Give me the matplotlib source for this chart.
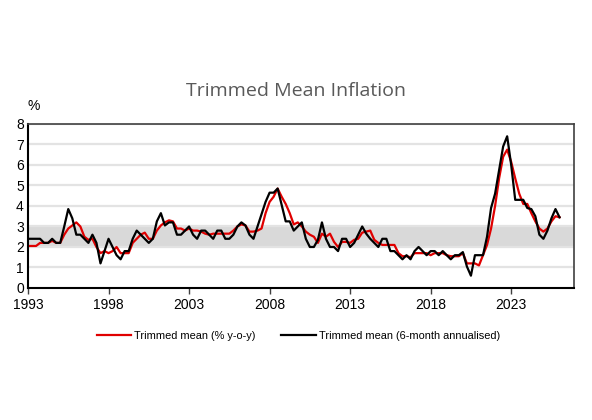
import numpy as np
import matplotlib.pyplot as plt

# quarterly data, first point 1993 Q1
start_year = 1993
yoy = [2.05, 2.05, 2.05, 2.2, 2.2, 2.2, 2.3, 2.2, 2.2, 2.6,
       2.9, 3.05, 3.2, 3.0, 2.5, 2.35, 2.4, 2.0, 1.7, 1.8,
       1.7, 1.8, 2.0, 1.7, 1.7, 1.7, 2.2, 2.4, 2.6, 2.7,
       2.4, 2.4, 2.8, 3.05, 3.2, 3.3, 3.25, 2.9, 2.9, 2.8,
       2.9, 2.8, 2.8, 2.75, 2.65, 2.6, 2.65, 2.65, 2.65, 2.65,
       2.65, 2.8, 3.0, 3.1, 3.05, 2.75, 2.75, 2.8, 2.9, 3.65,
       4.2, 4.45, 4.85, 4.45, 4.1, 3.65, 3.1, 3.2, 3.0, 2.75,
       2.6, 2.5, 2.2, 2.65, 2.5, 2.65, 2.25, 2.0, 2.25, 2.25,
       2.2, 2.35, 2.4, 2.7, 2.75, 2.8, 2.35, 2.2, 2.1, 2.1,
       2.1, 2.1, 1.7, 1.55, 1.55, 1.5, 1.7, 1.7, 1.7, 1.7,
       1.6, 1.7, 1.7, 1.7, 1.6, 1.55, 1.55, 1.55, 1.7, 1.2,
       1.2, 1.2, 1.1, 1.6, 2.1, 2.9, 4.0, 5.35, 6.4, 6.75,
       6.15, 5.35, 4.6, 4.1, 4.1, 3.65, 3.25, 2.9, 2.75, 2.9,
       3.25, 3.5, 3.45]
six_month = [2.4, 2.4, 2.4, 2.4, 2.2, 2.2, 2.4, 2.2, 2.2, 3.0,
             3.85, 3.4, 2.6, 2.6, 2.4, 2.2, 2.6, 2.2, 1.2, 1.8,
             2.4, 2.0, 1.6, 1.4, 1.8, 1.8, 2.4, 2.8, 2.6, 2.4,
             2.2, 2.4, 3.25, 3.65, 3.05, 3.2, 3.2, 2.6, 2.6, 2.8,
             3.0, 2.6, 2.4, 2.8, 2.8, 2.6, 2.4, 2.8, 2.8, 2.4,
             2.4, 2.6, 3.0, 3.2, 3.05, 2.6, 2.4, 3.0, 3.6, 4.2,
             4.65, 4.65, 4.85, 4.05, 3.25, 3.25, 2.8, 3.0, 3.2, 2.4,
             2.0, 2.0, 2.35, 3.2, 2.4, 2.0, 2.0, 1.8, 2.4, 2.4,
             2.0, 2.2, 2.6, 3.0, 2.65, 2.4, 2.2, 2.0, 2.4, 2.4,
             1.8, 1.8, 1.6, 1.4, 1.6, 1.4, 1.8, 2.0, 1.8, 1.6,
             1.8, 1.8, 1.6, 1.8, 1.6, 1.4, 1.6, 1.6, 1.75, 1.05,
             0.6, 1.6, 1.6, 1.6, 2.5, 3.9, 4.6, 5.75, 6.9, 7.4,
             6.0, 4.3, 4.3, 4.3, 3.9, 3.85, 3.5, 2.6, 2.4, 2.8,
             3.4, 3.85, 3.45]
target_band = (2, 3)
tick_years = [1993, 1998, 2003, 2008, 2013, 2018, 2023]

x = start_year + np.arange(len(yoy)) / 4.0

plt.rcParams['font.family'] = ['Liberation Sans', 'DejaVu Sans']

fig = plt.figure(figsize=(5.92, 4.20), dpi=100)
ax = fig.add_axes([0.0473, 0.3143, 0.9223, 0.3905])

ax.axhspan(target_band[0], target_band[1], color='#d9d9d9', lw=0, zorder=0)
for yv in range(1, 9):
    ax.axhline(yv, color='#e3e3e3', lw=1.6, zorder=0.5)

l1, = ax.plot(x, yoy, color='#e00000', lw=1.6, zorder=2)
l2, = ax.plot(x, six_month, color='black', lw=1.6, zorder=3)

ax.set_xlim(1993, 2026.9)
ax.set_ylim(0, 8)
ax.set_yticks(range(0, 9))
ax.set_xticks(tick_years)
ax.set_xticklabels([str(t) for t in tick_years])
ax.tick_params(axis='both', labelsize=10, colors='black', length=0, pad=3)
ax.tick_params(axis='x', length=4, direction='out', width=1, color='#404040')

for side in ['left', 'bottom']:
    ax.spines[side].set_color('black')
    ax.spines[side].set_linewidth(1.5)
for side in ['top', 'right']:
    ax.spines[side].set_color('#404040')
    ax.spines[side].set_linewidth(1.2)

fig.text(0.5, 0.783, 'Trimmed Mean Inflation', ha='center', va='center',
         fontsize=14, color='#595959', family=['Open Sans', 'DejaVu Sans'])
fig.text(0.046, 0.748, '%', ha='left', va='center', fontsize=10)

fig.legend([l1, l2], ['Trimmed mean (% y-o-y)', 'Trimmed mean (6-month annualised)'],
           loc='center', bbox_to_anchor=(0.504, 0.2), ncol=2, frameon=False,
           fontsize=7.9, handlelength=3.1, columnspacing=2.37, handletextpad=0.3)

fig.savefig('out.png', dpi=100)
